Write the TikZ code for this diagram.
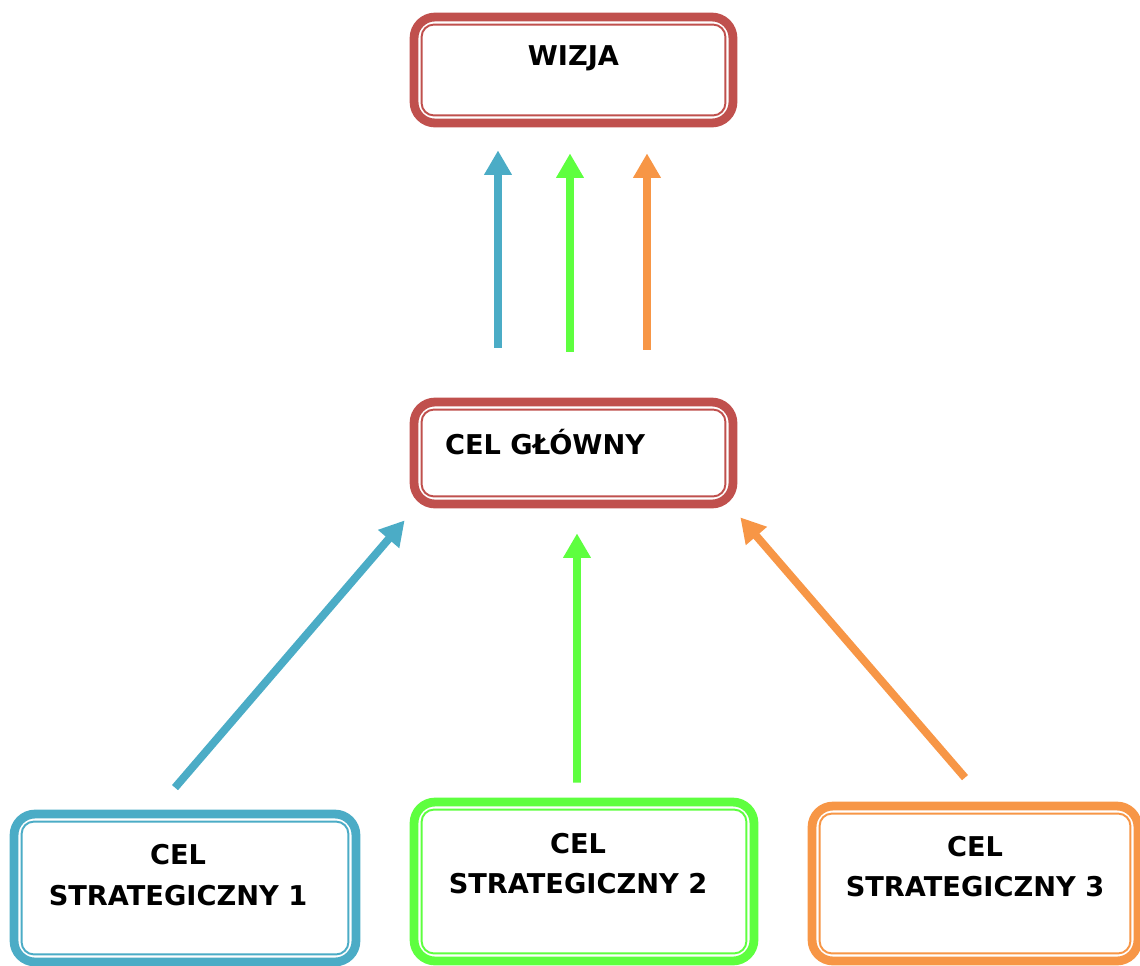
\documentclass[tikz,border=0pt]{standalone}
\usepackage{fontspec}
\setmainfont{DejaVu Sans}
\usetikzlibrary{arrows.meta}

\definecolor{vred}{HTML}{C0504D}
\definecolor{vblue}{HTML}{4BACC6}
\definecolor{vgreen}{HTML}{5EFF3F}
\definecolor{vorange}{HTML}{F79646}

\tikzstyle{arrow} = [line width=4.5pt,-{Triangle[width=15pt,length=14pt]}]
\tikzstyle{goal} = [
        rectangle,
        rounded corners=12pt,
        line width=5pt,
        fill=white,
        align=center
    ]
\tikzset{
    goal text/.style={font=\fontsize{15.5}{23}\selectfont\bfseries, align=center},
    inner line/.style={%
        path picture={%
            \draw [#1, line width=1.1pt, rounded corners=7pt]
                ([shift={(4.3pt,4.3pt)}]path picture bounding box.south west) rectangle
                ([shift={(-4.3pt,-4.3pt)}]path picture bounding box.north east);
        }%
    }
}

\begin{document}
\begin{tikzpicture}[x=0.02cm, y=-0.02cm]
        \clip (0,0) rectangle (1140,965);

        \node (wizja) [%
            goal, draw=vred, inner line=vred,%
            minimum width=6.38cm, minimum height=2.12cm,%
            label={%
            [xshift=0cm, yshift=0.24cm, goal text]%
            center:WIZJA%
            }%
            ] at (573.5,70) {};

        \node (glowny) [%
            goal, draw=vred, inner line=vred,%
            minimum width=6.38cm, minimum height=2.04cm,%
            label={%
            [xshift=-0.57cm, yshift=0.22cm, goal text]%
            center:CEL GŁÓWNY%
            }%
            ] at (573.5,453) {};

        \node (cs1) [%
            goal, draw=vblue, inner line=vblue,%
            minimum width=6.84cm, minimum height=2.96cm,%
            label={%
            [xshift=-0.14cm, yshift=0.26cm, goal text]%
            center:CEL\\STRATEGICZNY 1%
            }%
            ] at (185,888) {};

        \node (cs2) [%
            goal, draw=vgreen, inner line=vgreen,%
            minimum width=6.80cm, minimum height=3.18cm,%
            label={%
            [xshift=-0.12cm, yshift=0.36cm, goal text]%
            center:CEL\\STRATEGICZNY 2%
            }%
            ] at (584,881.5) {};

        \node (cs3) [%
            goal, draw=vorange, inner line=vorange,%
            minimum width=6.52cm, minimum height=3.10cm,%
            label={%
            [xshift=0cm, yshift=0.34cm, goal text]%
            center:CEL\\STRATEGICZNY 3%
            }%
            ] at (975,883.5) {};

        \draw [arrow, vblue] ([shift={(-75.5,-50)}]glowny.north) -- ([shift={(-75.5,23)}]wizja.south);
        \draw [arrow, vgreen] ([shift={(-3.5,-46)}]glowny.north) -- ([shift={(-3.5,26)}]wizja.south);
        \draw [arrow, vorange] ([shift={(73.5,-48)}]glowny.north) -- ([shift={(73.5,26)}]wizja.south);

        \draw [arrow, vblue] ([shift={(-10,-22)}]cs1.north) -- ([shift={(-5,12)}]glowny.south west);
        \draw [arrow, vgreen] ([shift={(-7,-15)}]cs2.north) -- ([shift={(3.5,25)}]glowny.south);
        \draw [arrow, vorange] ([shift={(-10,-24)}]cs3.north) -- ([shift={(3,9)}]glowny.south east);

    \end{tikzpicture}
\end{document}
